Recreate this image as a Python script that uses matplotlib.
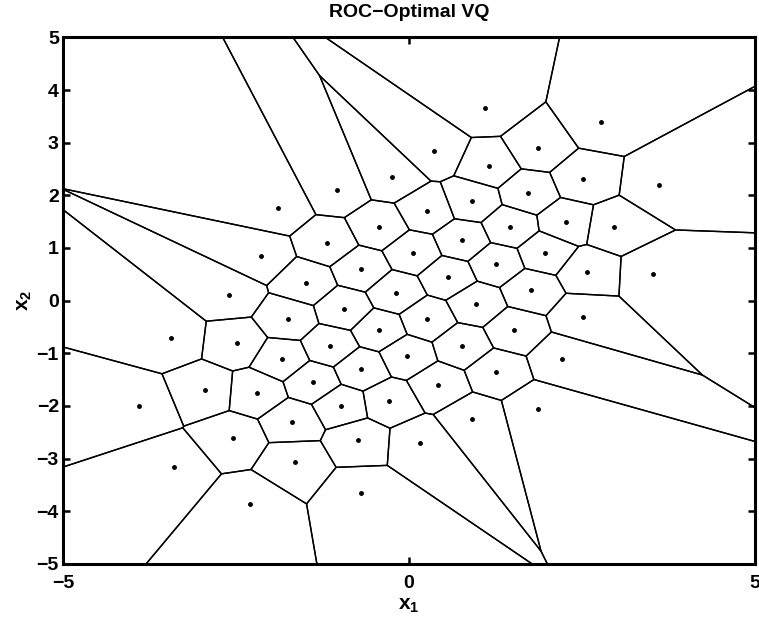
import numpy as np
import matplotlib
matplotlib.use('Agg')
import matplotlib.pyplot as plt

plt.rcParams['font.family'] = 'Liberation Sans'
plt.rcParams['font.weight'] = 'bold'
plt.rcParams['mathtext.fontset'] = 'custom'
plt.rcParams['mathtext.rm'] = 'Liberation Sans:bold'
plt.rcParams['mathtext.bf'] = 'Liberation Sans:bold'
plt.rcParams['mathtext.it'] = 'Liberation Sans:bold'

# codebook centroids (64 levels)
cx = [1.10, 2.77, 1.86, 0.36, 1.16, -0.25, 2.51, 3.61, -1.04, 1.72,
      0.91, -1.89, 0.26, 2.27, -0.43, 1.46, 2.96, 0.77, -1.18, 0.06,
      1.97, -2.14, 1.26, -0.69, 2.57, 3.53, 0.56, -1.49, 1.76, -0.19,
      -2.60, 0.97, -0.94, 2.51, -1.75, 0.26, -0.43, 1.52, -3.44, -2.49,
      -1.14, 0.77, -0.03, -1.84, 2.21, -0.69, 1.26, -1.39, 0.42, -2.95,
      -2.20, -0.29, -3.90, -0.98, 1.86, 0.91, -1.69, -2.54, -0.74, 0.16,
      -1.65, -3.40, -0.69, -2.30]
cy = [3.66, 3.39, 2.90, 2.84, 2.56, 2.35, 2.31, 2.20, 2.10, 2.05,
      1.89, 1.76, 1.70, 1.49, 1.40, 1.40, 1.40, 1.15, 1.10, 0.91,
      0.91, 0.85, 0.70, 0.60, 0.55, 0.51, 0.45, 0.34, 0.20, 0.15,
      0.11, -0.06, -0.16, -0.31, -0.35, -0.35, -0.56, -0.56, -0.71, -0.80,
      -0.86, -0.86, -1.05, -1.11, -1.11, -1.30, -1.35, -1.54, -1.60, -1.70,
      -1.75, -1.91, -2.00, -2.00, -2.06, -2.25, -2.30, -2.61, -2.65, -2.70,
      -3.06, -3.16, -3.65, -3.86]

pts = np.column_stack([cx, cy])


def clip(poly, n, c):
    # keep the part of poly with n.p <= c
    out = []
    m = len(poly)
    for k in range(m):
        p = poly[k]
        q = poly[(k + 1) % m]
        dp = n @ p - c
        dq = n @ q - c
        if dp <= 0:
            out.append(p)
        if dp * dq < 0:
            t = dp / (dp - dq)
            out.append(p + t * (q - p))
    return np.array(out)


box = np.array([[-50, -50], [50, -50], [50, 50], [-50, 50]], dtype=float)

fig = plt.figure(figsize=(7.59, 6.23), dpi=100)
ax = fig.add_axes([0.083, 0.095, 0.912, 0.845])

# voronoi cells: intersect half-planes for each centroid
for i, p in enumerate(pts):
    cell = box.copy()
    for j, q in enumerate(pts):
        if i == j:
            continue
        n = q - p
        c = (q @ q - p @ p) / 2
        cell = clip(cell, n, c)
        if len(cell) == 0:
            break
    if len(cell):
        ax.fill(cell[:, 0], cell[:, 1], fill=False, ec='k', lw=1.0)

ax.plot(pts[:, 0], pts[:, 1], 'k.', ms=5)

ax.set_xlim(-5, 5)
ax.set_ylim(-5, 5)
ax.set_xticks([-5, 0, 5])
ax.set_yticks(np.arange(-5, 6, 1))
ax.tick_params(direction='in', length=5, width=1.8, labelsize=14,
               top=True, right=True)
ax.tick_params(axis='x', pad=8)
ax.tick_params(axis='y', pad=3)
for s in ax.spines.values():
    s.set_linewidth(2.2)
ax.set_title('ROC\u2212Optimal VQ', fontsize=14, fontweight='bold', pad=15)
ax.set_xlabel(r'$\mathbf{x_1}$', fontsize=15, labelpad=3)
ax.set_ylabel(r'$\mathbf{x_2}$', fontsize=15, labelpad=2)
ax.set_yticklabels(['\u22125', '\u22124', '\u22123', '\u22122', '\u22121',
                    '0', '1', '2', '3', '4', '5'])
ax.set_xticklabels(['\u22125', '0', '5'])

fig.savefig('out.png', dpi=100)
